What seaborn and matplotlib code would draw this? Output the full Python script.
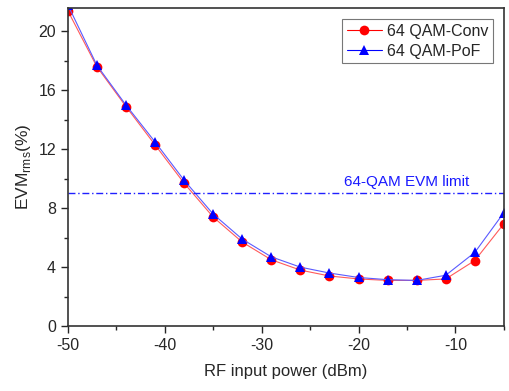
import matplotlib
matplotlib.use("Agg")
import matplotlib.pyplot as plt
import seaborn as sns
import pandas as pd
from matplotlib.ticker import MultipleLocator

rf_power = [-50, -47, -44, -41, -38, -35, -32, -29, -26, -23, -20, -17, -14, -11, -8, -5]
evm_conv = [21.4, 17.6, 14.9, 12.3, 9.7, 7.4, 5.7, 4.5, 3.8, 3.4, 3.2, 3.1, 3.1, 3.2, 4.45, 6.95]
evm_pof = [21.8, 17.7, 15.0, 12.5, 9.9, 7.6, 5.9, 4.7, 4.0, 3.6, 3.3, 3.15, 3.1, 3.45, 5.0, 7.7]
series_names = ["64 QAM-Conv", "64 QAM-PoF"]
evm_limit = 9.0
limit_label = "64-QAM EVM limit"

sns.set_style("white")
plt.rcParams['font.family'] = ['Liberation Sans', 'DejaVu Sans']
plt.rcParams['mathtext.fontset'] = 'custom'
plt.rcParams['mathtext.rm'] = 'Liberation Sans'
plt.rcParams['axes.unicode_minus'] = False

df = pd.DataFrame({
    "x": rf_power * 2,
    "y": evm_conv + evm_pof,
    "series": [series_names[0]] * len(rf_power) + [series_names[1]] * len(rf_power),
})

fig = plt.figure(figsize=(5.10, 3.91), dpi=100)
ax = fig.add_axes([0.133, 0.166, 0.855, 0.814])

sns.lineplot(data=df, x="x", y="y", hue="series", style="series",
             palette={series_names[0]: "#ff0000", series_names[1]: "#0000ff"},
             markers={series_names[0]: "o", series_names[1]: "^"},
             dashes=False, linewidth=0.8, markersize=7, markeredgewidth=0,
             ax=ax)
for line, c, mc in zip(ax.lines[:2], ["#ff5a5a", "#5a5aff"], ["#ff0000", "#0000ff"]):
    line.set_color(c)
    line.set_markerfacecolor(mc)
    line.set_markeredgecolor(mc)

ax.axhline(evm_limit, color="#2020ff", linestyle="-.", linewidth=1.0, dashes=(5, 2, 1, 2))
ax.text(-8.6, evm_limit + 0.3, limit_label, color="#1a1aff", fontsize=11,
        ha="right", va="bottom")

ax.set_xlim(-50, -5)
ax.set_ylim(0, 21.6)
ax.xaxis.set_major_locator(MultipleLocator(10))
ax.xaxis.set_minor_locator(MultipleLocator(5))
ax.yaxis.set_major_locator(MultipleLocator(4))
ax.yaxis.set_minor_locator(MultipleLocator(2))
ax.tick_params(axis="both", which="major", direction="out", length=5, width=1,
               labelsize=11.5, bottom=True, left=True, top=False, right=False)
ax.tick_params(axis="both", which="minor", direction="out", length=3, width=1,
               bottom=True, left=True, top=False, right=False)
for s in ax.spines.values():
    s.set_color("#333333")
    s.set_linewidth(1.2)

ax.set_xlabel("RF input power (dBm)", fontsize=12, labelpad=8)
ax.set_ylabel(r"EVM$_{\mathrm{rms}}$(%)", fontsize=12.5, labelpad=4)

leg = ax.legend(loc="upper right", fontsize=11.5, frameon=True, fancybox=False,
                edgecolor="#555555", borderaxespad=0.7, handlelength=2.2,
                handletextpad=0.3, borderpad=0.3, labelspacing=0.3)
leg.set_title(None)
leg.get_frame().set_linewidth(0.8)

fig.savefig("out.png", dpi=100)
